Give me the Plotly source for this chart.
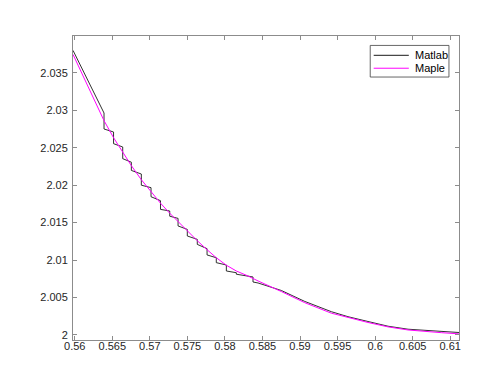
import plotly.graph_objects as go

# Matlab result (staircase-like)
matlab_x = [0.55977, 0.56390, 0.56390, 0.56517, 0.56517, 0.56639, 0.56639, 0.56754, 0.56754,
            0.56887, 0.56887, 0.57016, 0.57016, 0.57142, 0.57142, 0.57265, 0.57265, 0.57376,
            0.57376, 0.57499, 0.57499, 0.57632, 0.57632, 0.57762, 0.57762, 0.57885, 0.57885,
            0.58019, 0.58019, 0.58152, 0.58152, 0.58374, 0.58374, 0.58441, 0.58751, 0.59063,
            0.59417, 0.59639, 0.59905, 0.60172, 0.60438, 0.60881, 0.61117]
matlab_y = [2.03798, 2.02962, 2.02749, 2.02709, 2.02553, 2.02509, 2.02353, 2.02306, 2.02196,
            2.02148, 2.01999, 2.01966, 2.01845, 2.01792, 2.01676, 2.01655, 2.01585, 2.01556,
            2.01455, 2.01409, 2.01321, 2.01276, 2.01209, 2.01152, 2.01068, 2.01031, 2.00965,
            2.00934, 2.00854, 2.00831, 2.00811, 2.00774, 2.00707, 2.00694, 2.00594, 2.00448,
            2.00311, 2.00244, 2.00180, 2.00117, 2.00077, 2.00044, 2.00033]

# Maple result (smooth)
maple_x = [0.55977, 0.56177, 0.56390, 0.56517, 0.56639, 0.56754, 0.56887, 0.57016, 0.57142,
           0.57265, 0.57376, 0.57499, 0.57632, 0.57762, 0.57885, 0.58019, 0.58152, 0.58308,
           0.58441, 0.58751, 0.59063, 0.59417, 0.59639, 0.59905, 0.60172, 0.60438, 0.60881,
           0.61117]
maple_y = [2.03744, 2.03307, 2.02860, 2.02633, 2.02433, 2.02260, 2.02072, 2.01912, 2.01759,
           2.01625, 2.01512, 2.01385, 2.01258, 2.01138, 2.01031, 2.00931, 2.00854, 2.00787,
           2.00721, 2.00580, 2.00431, 2.00291, 2.00231, 2.00167, 2.00108, 2.00067, 2.00031,
           2.00015]

x_ticks = [0.56, 0.565, 0.57, 0.575, 0.58, 0.585, 0.59, 0.595, 0.6, 0.605, 0.61]
x_labels = ["0.56", "0.565", "0.57", "0.575", "0.58", "0.585", "0.59", "0.595", "0.6", "0.605", "0.61"]
y_ticks = [2, 2.005, 2.01, 2.015, 2.02, 2.025, 2.03, 2.035]
y_labels = ["2", "2.005", "2.01", "2.015", "2.02", "2.025", "2.03", "2.035"]

series_names = ["Matlab", "Maple"]
series_colors = ["#1a1a1a", "#ff00ff"]

fig = go.Figure()

fig.add_trace(go.Scatter(
    x=matlab_x, y=matlab_y,
    mode="lines",
    name=series_names[0],
    line=dict(color=series_colors[0], width=0.9),
    showlegend=False,
))

fig.add_trace(go.Scatter(
    x=maple_x, y=maple_y,
    mode="lines",
    name=series_names[1],
    line=dict(color=series_colors[1], width=1),
    showlegend=False,
))

axis_style = dict(
    showgrid=False,
    zeroline=False,
    showline=True,
    linecolor="#8c8c8c",
    linewidth=1,
    mirror="ticks",
    ticks="inside",
    ticklen=4,
    tickcolor="#8c8c8c",
    tickfont=dict(family="Liberation Sans", size=11, color="#262626"),
)

fig.update_xaxes(range=[0.55977, 0.61117], tickvals=x_ticks, ticktext=x_labels,
                 ticklabelstandoff=-4, **axis_style)
fig.update_yaxes(range=[1.99933, 2.0399], tickvals=y_ticks, ticktext=y_labels,
                 ticklabelstandoff=2, **axis_style)

# MATLAB-style legend box, drawn by hand so it stays compact
fig.add_shape(type="rect", xref="paper", yref="paper",
              x0=0.770, x1=0.974, y0=0.865, y1=0.969,
              line=dict(color="#404040", width=0.8), fillcolor="white", layer="above")
legend_rows = [0.9365, 0.894]
for name, color, yy in zip(series_names, series_colors, legend_rows):
    fig.add_shape(type="line", xref="paper", yref="paper",
                  x0=0.779, x1=0.870, y0=yy, y1=yy,
                  line=dict(color=color, width=1), layer="above")
    fig.add_annotation(x=0.881, y=yy, xref="paper", yref="paper",
                       text=name, showarrow=False, xanchor="left", yanchor="middle",
                       font=dict(family="Liberation Sans", size=11, color="#000000"))

fig.update_layout(
    width=498,
    height=374,
    margin=dict(l=65, r=47, t=28, b=42),
    paper_bgcolor="white",
    plot_bgcolor="white",
    font=dict(family="Liberation Sans", size=11, color="#262626"),
    showlegend=False,
)

fig.write_html("out.html")
